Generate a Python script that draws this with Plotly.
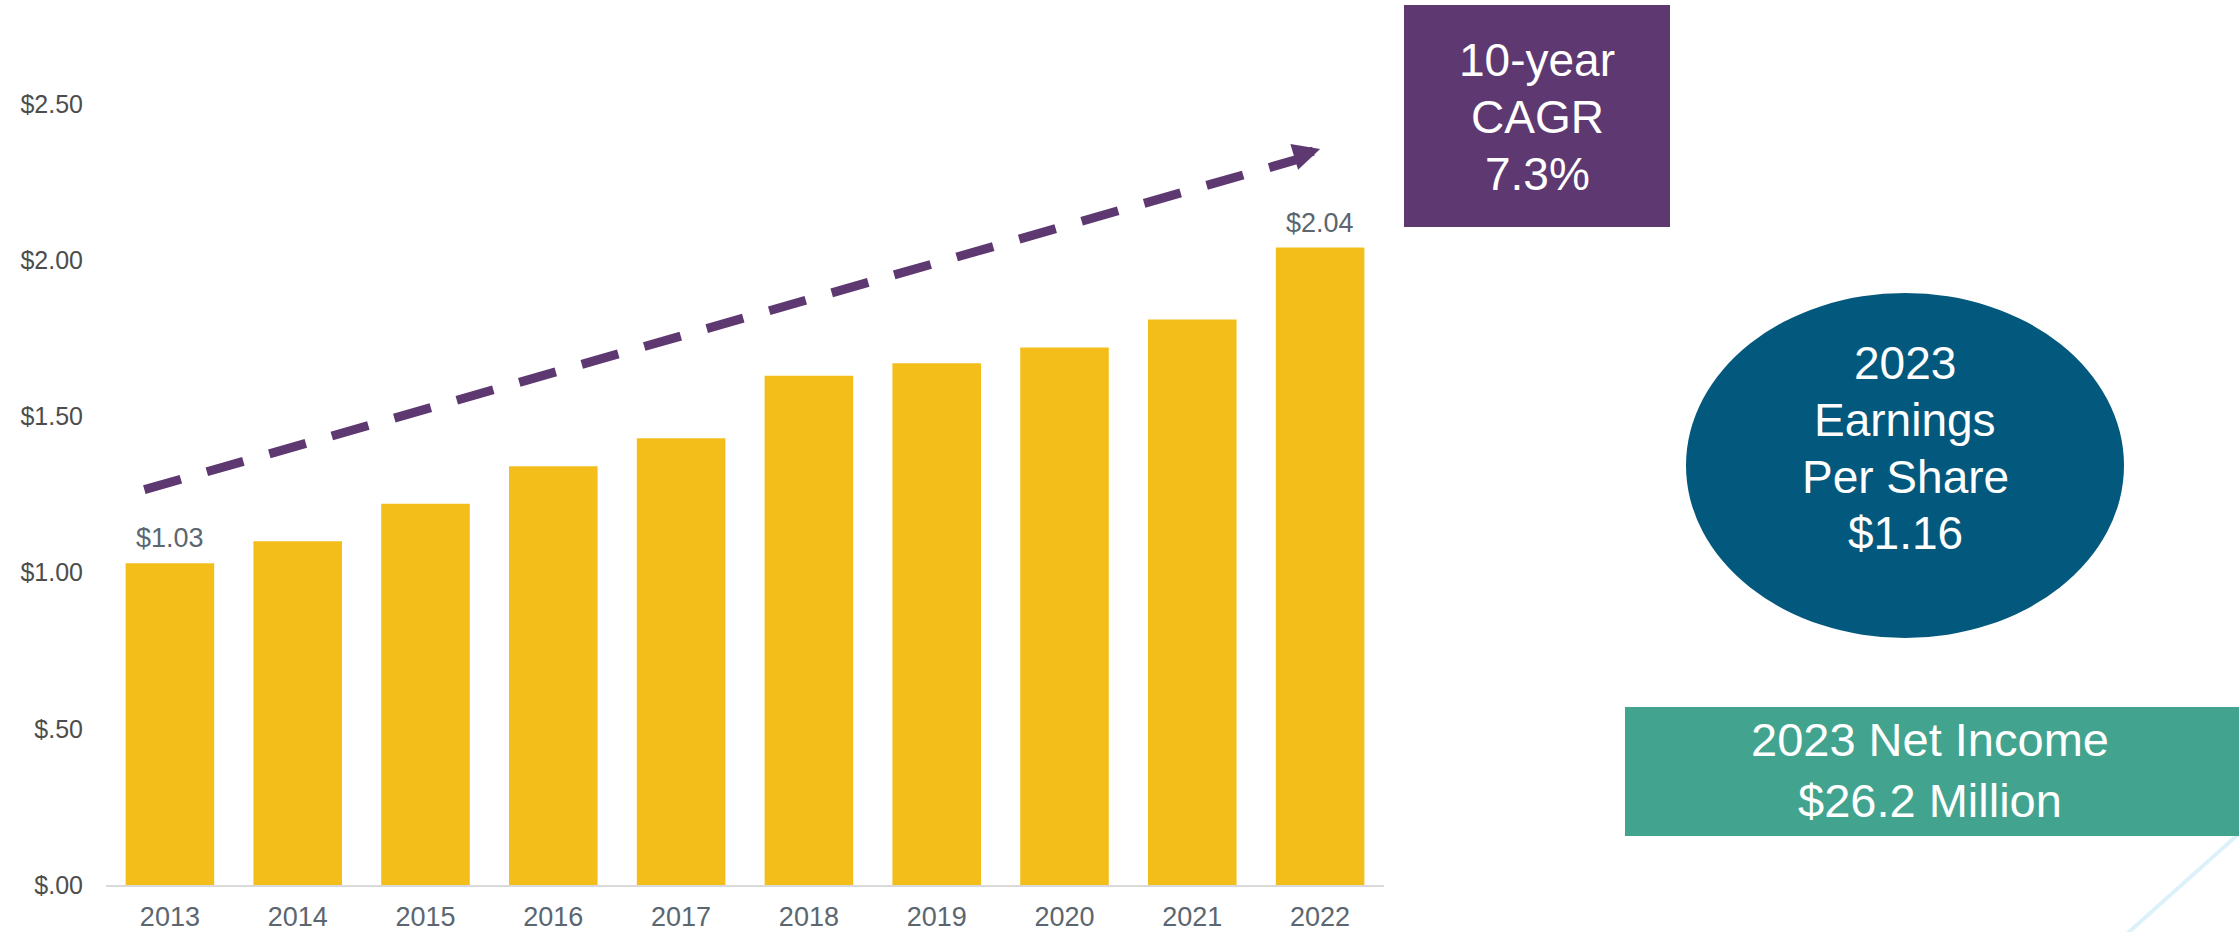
import plotly.graph_objects as go

# ---------------- data ----------------
years = ["2013", "2014", "2015", "2016", "2017", "2018", "2019", "2020", "2021", "2022"]
eps = [1.03, 1.10, 1.22, 1.34, 1.43, 1.63, 1.67, 1.72, 1.81, 2.04]
labeled_years = ["2013", "2022"]
y_tickvals = [0.0, 0.5, 1.0, 1.5, 2.0, 2.5]
y_ticktext = ["$.00", "$.50", "$1.00", "$1.50", "$2.00", "$2.50"]
trend_start = (-0.2, 1.265)   # (category index, value)
trend_end = (9.0, 2.355)
cagr_lines = ["10-year", "CAGR", "7.3%"]
eps_lines = ["2023", "Earnings", "Per Share", "$1.16"]
ni_lines = ["2023 Net Income", "$26.2 Million"]

# ---------------- layout geometry ----------------
W, H = 2239, 932
PL, PR, PT, PB = 106, 1384, 10, 885   # plot area in pixels
FONT = "Liberation Sans, Arial, sans-serif"
BAR_COLOR = "#F3BE1A"
PURPLE = "#5E3871"
BLUE = "#03597D"
GREEN = "#42A48F"
LABEL_GRAY = "#5B6670"


def px(x):
    return (x - PL) / (PR - PL)


def py(y):
    return (PB - y) / (PB - PT)


fig = go.Figure()
fig.add_trace(go.Bar(x=years, y=eps, marker_color=BAR_COLOR, marker_line_width=0,
                     hoverinfo="skip"))

annotations = []
for yr in labeled_years:
    i = years.index(yr)
    annotations.append(dict(x=i, y=eps[i], xref="x", yref="y", text=f"${eps[i]:.2f}",
                            showarrow=False, yanchor="bottom", yshift=8,
                            font=dict(family=FONT, size=27, color=LABEL_GRAY)))

# arrow head of the trend line
annotations.append(dict(x=trend_end[0], y=trend_end[1], xref="x", yref="y", text="",
                        showarrow=True, ax=-20, ay=6, arrowhead=2, arrowsize=0.6,
                        arrowwidth=9, arrowcolor=PURPLE))


def add_lines(lines, cx, ys, size):
    for txt, yy in zip(lines, ys):
        annotations.append(dict(x=px(cx), y=py(yy), xref="paper", yref="paper",
                                text=txt, showarrow=False,
                                xanchor="center", yanchor="middle",
                                font=dict(family=FONT, size=size, color="white")))


add_lines(cagr_lines, 1537, [60, 117, 174], 46)
add_lines(eps_lines, 1905, [363, 420, 477, 533], 46)
add_lines(ni_lines, 1930, [739, 800], 47)

shapes = [
    # dashed trend line
    dict(type="line", xref="x", yref="y", x0=trend_start[0], y0=trend_start[1],
         x1=trend_end[0] - 0.15, y1=trend_end[1] - 0.03,
         line=dict(color=PURPLE, width=9, dash="38px,27px")),
    # light decorative diagonal
    dict(type="line", xref="paper", yref="paper", x0=px(2252), y0=py(822),
         x1=px(2120), y1=py(940), line=dict(color="#DDF1FB", width=4)),
    dict(type="rect", xref="paper", yref="paper", x0=px(1404), x1=px(1670),
         y0=py(227), y1=py(5), fillcolor=PURPLE, line_width=0),
    dict(type="circle", xref="paper", yref="paper", x0=px(1686), x1=px(2124),
         y0=py(638), y1=py(293), fillcolor=BLUE, line_width=0),
    dict(type="rect", xref="paper", yref="paper", x0=px(1625), x1=px(2239),
         y0=py(836), y1=py(707), fillcolor=GREEN, line_width=0),
]

fig.update_layout(
    width=W, height=H, autosize=False,
    margin=dict(l=PL, r=W - PR, t=PT, b=H - PB, pad=0, autoexpand=False),
    paper_bgcolor="white", plot_bgcolor="white",
    bargap=0.307, showlegend=False,
    font=dict(family=FONT, size=25, color="#4D4D4D"),
    annotations=annotations, shapes=shapes,
)
fig.update_xaxes(type="category", range=[-0.5, 9.5], showgrid=False, zeroline=False,
                 showline=True, linecolor="#D9D9D9", linewidth=2, ticks="",
                 ticklabelstandoff=7, automargin=False,
                 tickfont=dict(family=FONT, size=27, color=LABEL_GRAY))
fig.update_yaxes(range=[0, 2.8], tickvals=y_tickvals, ticktext=y_ticktext,
                 showgrid=False, zeroline=False, showline=False, ticks="",
                 ticklabelstandoff=22, automargin=False,
                 tickfont=dict(family=FONT, size=25, color="#4D4D4D"))

fig.write_html("out.html")
